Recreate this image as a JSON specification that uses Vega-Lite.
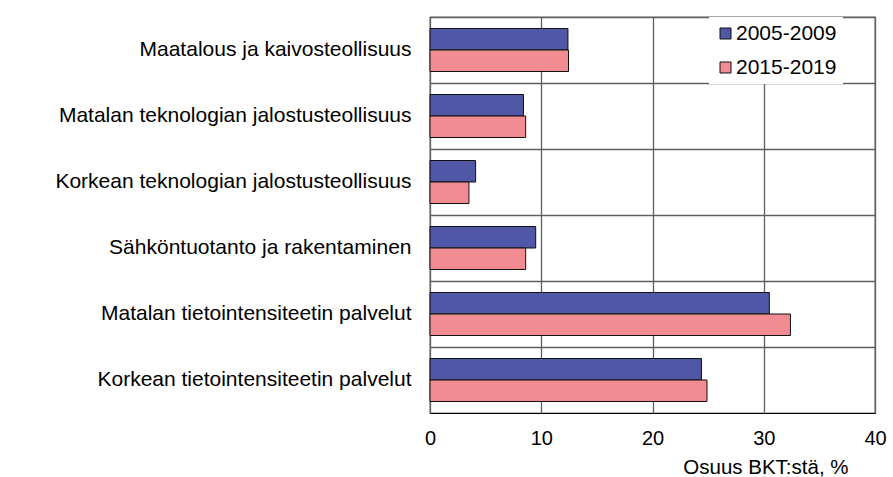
{
  "$schema": "https://vega.github.io/schema/vega-lite/v6.json",
  "autosize": {"type": "none"},
  "width": 445,
  "height": 396,
  "padding": {"left": 430, "top": 17, "right": 18, "bottom": 64},
  "background": "white",
  "config": {
    "font": "Liberation Sans",
    "view": {"stroke": "#000000", "strokeWidth": 1.2}
  },
  "data": {
    "values": [
      {"ala": "Maatalous ja kaivosteollisuus", "jakso": "2005-2009", "osuus": 12.4},
      {"ala": "Maatalous ja kaivosteollisuus", "jakso": "2015-2019", "osuus": 12.45},
      {"ala": "Matalan teknologian jalostusteollisuus", "jakso": "2005-2009", "osuus": 8.4},
      {"ala": "Matalan teknologian jalostusteollisuus", "jakso": "2015-2019", "osuus": 8.6},
      {"ala": "Korkean teknologian jalostusteollisuus", "jakso": "2005-2009", "osuus": 4.1},
      {"ala": "Korkean teknologian jalostusteollisuus", "jakso": "2015-2019", "osuus": 3.5},
      {"ala": "Sähköntuotanto ja rakentaminen", "jakso": "2005-2009", "osuus": 9.5},
      {"ala": "Sähköntuotanto ja rakentaminen", "jakso": "2015-2019", "osuus": 8.6},
      {"ala": "Matalan tietointensiteetin palvelut", "jakso": "2005-2009", "osuus": 30.5},
      {"ala": "Matalan tietointensiteetin palvelut", "jakso": "2015-2019", "osuus": 32.4},
      {"ala": "Korkean tietointensiteetin palvelut ", "jakso": "2005-2009", "osuus": 24.4},
      {"ala": "Korkean tietointensiteetin palvelut ", "jakso": "2015-2019", "osuus": 24.9}
    ]
  },
  "mark": {"type": "bar", "stroke": "#111111", "strokeWidth": 1},
  "encoding": {
    "y": {
      "field": "ala",
      "type": "nominal",
      "sort": null,
      "scale": {"paddingInner": 0, "paddingOuter": 0},
      "axis": {
        "title": null,
        "domain": false,
        "ticks": false,
        "labelFontSize": 21,
        "labelColor": "#000000",
        "labelPadding": 19,
        "labelLimit": 420,
        "grid": true,
        "bandPosition": 0,
        "gridColor": "#5f5f5f",
        "gridWidth": 1.3,
        "gridOpacity": 1
      }
    },
    "yOffset": {
      "field": "jakso",
      "type": "nominal",
      "scale": {"paddingInner": 0, "paddingOuter": 0.535}
    },
    "x": {
      "field": "osuus",
      "type": "quantitative",
      "scale": {"domain": [0, 40], "nice": false},
      "axis": {
        "values": [0, 10, 20, 30, 40],
        "domain": false,
        "ticks": false,
        "labelFontSize": 20,
        "labelColor": "#000000",
        "labelPadding": 15,
        "labelFlush": false,
        "grid": true,
        "gridColor": "#5f5f5f",
        "gridWidth": 1.3,
        "gridOpacity": 1,
        "title": "Osuus BKT:stä, %",
        "titleFontSize": 20.5,
        "titleFontWeight": "normal",
        "titleColor": "#000000",
        "titleAlign": "right",
        "titleAnchor": null,
        "titleX": 418,
        "titleY": 54,
        "titleBaseline": "middle"
      }
    },
    "color": {
      "field": "jakso",
      "type": "nominal",
      "scale": {"domain": ["2005-2009", "2015-2019"], "range": ["#4F57A6", "#F08C92"]},
      "legend": {
        "title": null,
        "orient": "none",
        "legendX": 279,
        "legendY": 0,
        "fillColor": "white",
        "padding": 6,
        "symbolType": "square",
        "symbolSize": 121,
        "symbolStrokeColor": "#111111",
        "symbolStrokeWidth": 1,
        "labelFontSize": 21,
        "labelColor": "#000000",
        "labelOffset": 0,
        "rowPadding": 12
      }
    }
  }
}
